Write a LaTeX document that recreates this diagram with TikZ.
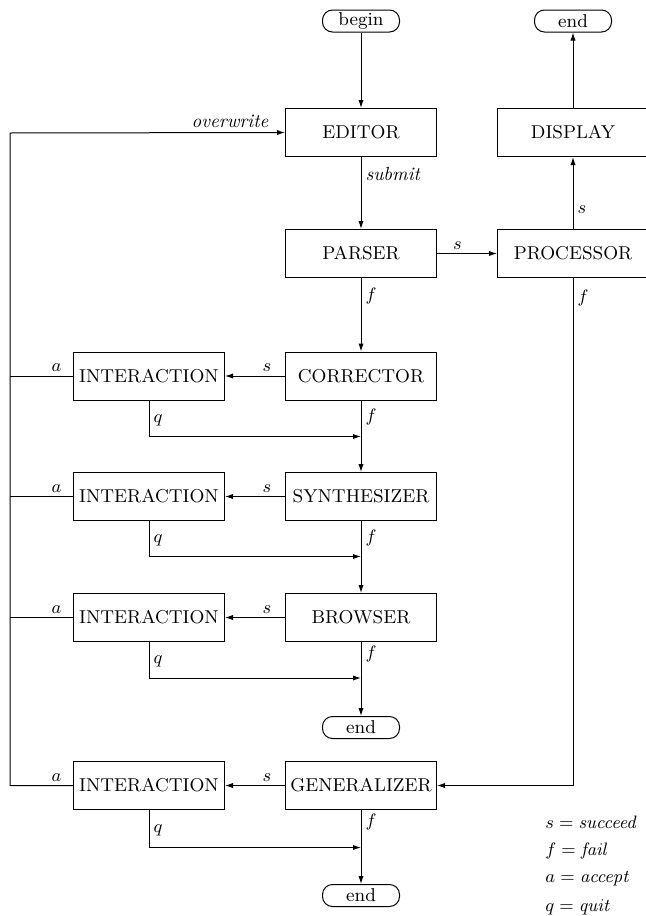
\documentclass[tikz,border=0pt]{standalone}
\usetikzlibrary{arrows.meta}

\begin{document}
\begin{tikzpicture}[x=0.5pt, y=-0.5pt,
  every node/.style={font=\fontsize{9.3}{11}\selectfont},
  box/.style={draw, line width=0.5pt, minimum width=75.5pt, minimum height=24pt, inner sep=0pt},
  term/.style={draw, line width=0.5pt, rounded corners=5pt, minimum width=38.5pt, minimum height=11pt, inner sep=0pt},
  lbl/.style={font=\fontsize{9.5}{11}\selectfont\itshape, inner sep=2pt},
  arr/.style={line width=0.5pt, -{Latex[length=4pt,width=2.6pt]}},
  ln/.style={line width=0.5pt}]
\useasboundingbox (0,0) rectangle (645,916);

\node[term] (begin) at (361,21) {begin};
\node[term] (endA) at (573,21) {end};
\node[box] (editor) at (361,132.5) {EDITOR};
\node[box] (display) at (573,132.5) {DISPLAY};
\node[box] (parser) at (361,253.5) {PARSER};
\node[box] (processor) at (573,253.5) {PROCESSOR};
\node[box] (corrector) at (361,376) {CORRECTOR};
\node[box] (interA) at (149,376) {INTERACTION};
\node[box] (synth) at (361,496.5) {SYNTHESIZER};
\node[box] (interB) at (149,496.5) {INTERACTION};
\node[box] (browser) at (361,617.5) {BROWSER};
\node[box] (interC) at (149,617.5) {INTERACTION};
\node[term] (endB) at (361,727.5) {end};
\node[box] (general) at (361,785.5) {GENERALIZER};
\node[box] (interD) at (149,785.5) {INTERACTION};
\node[term] (endC) at (361,895.5) {end};

% joins of the quit lines and the left return line
\coordinate (lft) at (10,133);
\coordinate (jA) at (361,436.5);
\coordinate (jB) at (361,556.5);
\coordinate (jC) at (361,678);
\coordinate (jD) at (361,847.5);

\draw[arr] (begin) -- (editor);
\draw[arr] (editor) -- node[lbl,right,pos=0.23]{submit} (parser);
\draw[arr] (parser) -- node[lbl,above,pos=0.34]{$s$} (processor);
\draw[arr] (processor) -- node[lbl,right,pos=0.27]{$s$} (display);
\draw[arr] (display) -- (endA);
\draw[arr] (processor.south) -- node[lbl,right,pos=0.04]{$f$} (processor.south |- general.east) -- (general.east);

\draw[arr] (parser) -- node[lbl,right,pos=0.24]{$f$} (corrector);
\draw[arr] (corrector) -- node[lbl,above,pos=0.3]{$s$} (interA);
\draw[arr] (corrector) -- node[lbl,right,pos=0.23]{$f$} (synth);
\draw[arr] (interA.south) |- node[lbl,right,pos=0.27]{$q$} (jA);

\draw[arr] (synth) -- node[lbl,above,pos=0.3]{$s$} (interB);
\draw[arr] (synth) -- node[lbl,right,pos=0.23]{$f$} (browser);
\draw[arr] (interB.south) |- node[lbl,right,pos=0.27]{$q$} (jB);

\draw[arr] (browser) -- node[lbl,right,pos=0.16]{$f$} (endB);
\draw[arr] (browser) -- node[lbl,above,pos=0.3]{$s$} (interC);
\draw[arr] (interC.south) |- node[lbl,right,pos=0.27]{$q$} (jC);

\draw[arr] (general) -- node[lbl,above,pos=0.3]{$s$} (interD);
\draw[arr] (general) -- node[lbl,right,pos=0.16]{$f$} (endC);
\draw[arr] (interD.south) |- node[lbl,right,pos=0.27]{$q$} (jD);

% accept: back to the editor
\draw[ln] (interA.west) -- node[lbl,above,pos=0.26]{$a$} (interA.west -| lft);
\draw[ln] (interB.west) -- node[lbl,above,pos=0.26]{$a$} (interB.west -| lft);
\draw[ln] (interC.west) -- node[lbl,above,pos=0.26]{$a$} (interC.west -| lft);
\draw[arr] (interD.west) -- node[lbl,above,pos=0.26]{$a$} (interD.west -| lft) -- (lft)
  -- node[lbl,above,pos=0.8]{overwrite} (editor.west);

% key
\node[lbl,anchor=west] (keyS) at (541,822) {$s = \mathit{succeed}$};
\node[lbl,anchor=west] (keyF) at (541,851) {$f = \mathit{fail}$};
\node[lbl,anchor=west] (keyA) at (541,879) {$a = \mathit{accept}$};
\node[lbl,anchor=west] (keyQ) at (541,907) {$q = \mathit{quit}$};
\end{tikzpicture}
\end{document}
